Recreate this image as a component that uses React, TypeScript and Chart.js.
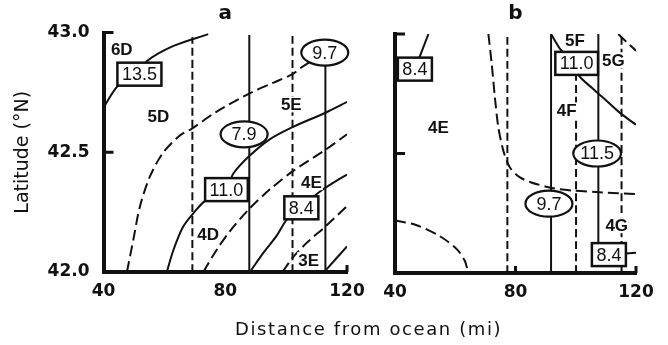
import React, { useEffect, useRef } from 'react';
import { Chart, registerables } from 'chart.js';

Chart.register(...registerables);

// ---------- shared axis data ----------
const xTicks = [40, 80, 120];
const yTicks = [42.0, 42.5, 43.0];
const yTickMarks = [42.5, 43.0];
const xTickMarksA = [120];
const xTickMarksB = [80, 120];
const panelTitles = ['a', 'b'];
const xTitle = 'Distance from ocean (mi)';
const yTitle = 'Latitude (°N)';

type Pt = [number, number];
type Lbl = { x: number; y: number; t: string };

// ---------- panel a contour lines [distance (mi), latitude (°N)] ----------
const aSolid135: Pt[] = [[40, 42.686], [44.9, 42.78], [51.8, 42.83], [54.2, 42.88], [63.0, 42.944], [74.4, 42.993]];
const aDashV69: Pt[] = [[69.2, 42.0], [69.2, 42.98]];
const aSolidV88: Pt[] = [[87.9, 42.0], [87.9, 42.99]];
const aDashV102: Pt[] = [[102.1, 42.0], [102.1, 42.99]];
const aSolidV113: Pt[] = [[112.9, 42.0], [112.9, 42.916]];
const aDashBig: Pt[] = [[47.7, 42.0], [49.8, 42.135], [52.0, 42.275], [55.3, 42.4], [59.7, 42.5], [65.1, 42.57], [69.2, 42.6], [77.2, 42.67], [87.9, 42.745], [95.7, 42.79], [102.1, 42.826], [105.0, 42.854], [112.7, 42.916]];
const aSolid110: Pt[] = [[60.8, 42.0], [63.0, 42.093], [66.2, 42.19], [70.1, 42.254], [73.3, 42.296], [80.4, 42.344], [82.6, 42.41], [87.9, 42.484], [94.6, 42.554], [102.1, 42.605], [112.9, 42.665], [120, 42.71]];
const aDashMid: Pt[] = [[72.8, 42.0], [77.2, 42.093], [81.5, 42.17], [87.9, 42.264], [94.6, 42.344], [102.1, 42.42], [112.9, 42.51], [120, 42.575]];
const aSolid84: Pt[] = [[88.1, 42.0], [92.5, 42.08], [96.8, 42.15], [100.3, 42.22], [105.0, 42.268], [110.8, 42.333], [115.4, 42.372], [120, 42.407]];
const aDashLow: Pt[] = [[98.8, 42.0], [102.1, 42.059], [106.7, 42.121], [112.9, 42.19], [120, 42.275]];
const aSolidShort: Pt[] = [[113.2, 42.01], [120, 42.107]];

const aBoxes: Lbl[] = [{ x: 51.8, y: 42.826, t: '13.5' }, { x: 80.4, y: 42.344, t: '11.0' }, { x: 105.0, y: 42.268, t: '8.4' }];
const aEllipses: Lbl[] = [{ x: 86.2, y: 42.575, t: '7.9' }, { x: 112.7, y: 42.916, t: '9.7' }];
const aRegions: Lbl[] = [{ x: 46.0, y: 42.93, t: '6D' }, { x: 58.0, y: 42.65, t: '5D' }, { x: 101.7, y: 42.7, t: '5E' }, { x: 108.3, y: 42.375, t: '4E' }, { x: 74.4, y: 42.156, t: '4D' }, { x: 107.4, y: 42.05, t: '3E' }];

// ---------- panel b contour lines ----------
const bSolidTop: Pt[] = [[46.6, 42.853], [51.1, 43.0]];
const bDashCorner: Pt[] = [[40, 42.22], [47.2, 42.2], [54.9, 42.154], [60.5, 42.1], [63.2, 42.05], [64.3, 42.0]];
const bDashHyper: Pt[] = [[71.0, 43.0], [72.1, 42.875], [73.2, 42.73], [74.3, 42.61], [76.0, 42.51], [78.2, 42.44], [81.5, 42.4], [85.0, 42.38], [92.0, 42.356], [99.0, 42.345], [108.0, 42.338], [120, 42.33]];
const bDashV77: Pt[] = [[77.3, 42.0], [77.3, 43.0]];
const bSolidV92: Pt[] = [[91.8, 42.0], [91.8, 43.0]];
const bSolid110: Pt[] = [[91.8, 43.0], [95.3, 42.93], [100.3, 42.877], [100.8, 42.83], [105.8, 42.77], [110.3, 42.72], [114.7, 42.67], [120, 42.62]];
const bDashV100: Pt[] = [[100.1, 42.0], [100.1, 42.88]];
const bSolidV107: Pt[] = [[107.5, 42.077], [107.5, 43.0]];
const bDashV115: Pt[] = [[115.2, 42.0], [115.2, 43.0]];
const bDashTopRight: Pt[] = [[114.1, 43.0], [117.0, 42.965], [120, 42.93]];
const bSolidTick: Pt[] = [[111.0, 42.077], [120, 42.085]];

const bBoxes: Lbl[] = [{ x: 46.6, y: 42.853, t: '8.4' }, { x: 100.3, y: 42.877, t: '11.0' }, { x: 111.0, y: 42.077, t: '8.4' }];
const bEllipses: Lbl[] = [{ x: 91.1, y: 42.29, t: '9.7' }, { x: 107.1, y: 42.5, t: '11.5' }];
const bRegions: Lbl[] = [{ x: 54.4, y: 42.61, t: '4E' }, { x: 99.75, y: 42.975, t: '5F' }, { x: 112.5, y: 42.89, t: '5G' }, { x: 97.0, y: 42.68, t: '4F' }, { x: 113.6, y: 42.2, t: '4G' }];

const aSolid = [aSolid135, aSolidV88, aSolidV113, aSolid110, aSolid84, aSolidShort];
const aDashed = [aDashV69, aDashV102, aDashBig, aDashMid, aDashLow];
const bSolid = [bSolidTop, bSolidV92, bSolid110, bSolidV107, bSolidTick];
const bDashed = [bDashCorner, bDashHyper, bDashV77, bDashV100, bDashV115, bDashTopRight];

const FONT = 'DejaVu Sans';
const LABEL_FONT = 'Liberation Sans';
const INK = '#111';

function lineDataset(points: Pt[], dashed: boolean) {
  const vertical = points.length === 2 && points[0][0] === points[1][0];
  return {
    data: points.map(([x, y]) => ({ x, y })),
    showLine: true,
    borderColor: INK,
    borderWidth: 2,
    borderDash: dashed ? (vertical ? [8, 4] : [11, 5]) : [],
    pointRadius: 0,
    tension: 0.3,
    fill: false,
  };
}

function makeLabelPlugin(boxes: Lbl[], ellipses: Lbl[], regions: Lbl[], xMarks: number[]) {
  return {
    id: 'contourLabels',
    afterDatasetsDraw(chart: any) {
      const { ctx, scales, chartArea } = chart;
      const sx = scales.x, sy = scales.y;
      ctx.save();
      ctx.textAlign = 'center';
      ctx.textBaseline = 'middle';
      // region labels
      ctx.font = `bold 17px "${LABEL_FONT}"`;
      for (const r of regions) {
        const px = sx.getPixelForValue(r.x), py = sy.getPixelForValue(r.y);
        const w = ctx.measureText(r.t).width;
        ctx.fillStyle = '#fff';
        ctx.fillRect(px - w / 2 - 1, py - 8, w + 2, 16);
        ctx.fillStyle = INK;
        ctx.fillText(r.t, px, py + 1);
      }
      // boxed values
      ctx.font = `18px "${LABEL_FONT}"`;
      ctx.lineWidth = 2.5;
      ctx.strokeStyle = INK;
      for (const b of boxes) {
        const px = sx.getPixelForValue(b.x), py = sy.getPixelForValue(b.y);
        const w = ctx.measureText(b.t).width + 9, h = 23;
        ctx.fillStyle = '#fff';
        ctx.fillRect(px - w / 2, py - h / 2, w, h);
        ctx.strokeRect(px - w / 2, py - h / 2, w, h);
        ctx.fillStyle = INK;
        ctx.fillText(b.t, px, py + 1);
      }
      // circled values
      ctx.lineWidth = 2.2;
      for (const e of ellipses) {
        const px = sx.getPixelForValue(e.x), py = sy.getPixelForValue(e.y);
        const w = Math.max(47, ctx.measureText(e.t).width + 14), h = 26;
        ctx.beginPath();
        ctx.ellipse(px, py, w / 2, h / 2, 0, 0, Math.PI * 2);
        ctx.fillStyle = '#fff';
        ctx.fill();
        ctx.stroke();
        ctx.fillStyle = INK;
        ctx.fillText(e.t, px, py + 1);
      }
      // inward tick marks
      ctx.lineWidth = 3;
      ctx.strokeStyle = INK;
      ctx.beginPath();
      for (const v of yTickMarks) {
        const py = sy.getPixelForValue(v);
        ctx.moveTo(chartArea.left, py);
        ctx.lineTo(chartArea.left + 10, py);
      }
      for (const v of xMarks) {
        const px = sx.getPixelForValue(v);
        ctx.moveTo(px, chartArea.bottom);
        ctx.lineTo(px, chartArea.bottom - 7);
      }
      ctx.stroke();
      ctx.restore();
    },
  };
}

type PanelProps = {
  left: number;
  width: number;
  title: string;
  solid: Pt[][];
  dashed: Pt[][];
  boxes: Lbl[];
  ellipses: Lbl[];
  regions: Lbl[];
  xMarks: number[];
  yAxisWidth: number;
  padRight: number;
  showY: boolean;
  titlePad: { top: number; bottom: number };
  xAxisHeight: number;
};

function Panel(p: PanelProps) {
  const ref = useRef<HTMLCanvasElement | null>(null);
  useEffect(() => {
    if (!ref.current) return;
    const datasets = [
      ...p.solid.map((pts) => lineDataset(pts, false)),
      ...p.dashed.map((pts) => lineDataset(pts, true)),
    ];
    const tickFont = { family: FONT, size: 17, weight: 'bold' as const };
    const chart = new Chart(ref.current, {
      type: 'scatter',
      data: { datasets },
      plugins: [makeLabelPlugin(p.boxes, p.ellipses, p.regions, p.xMarks)],
      options: {
        responsive: false,
        animation: false,
        devicePixelRatio: 1,
        layout: { padding: { left: 0, right: p.padRight, top: 0, bottom: 0 } },
        plugins: {
          legend: { display: false },
          tooltip: { enabled: false },
          title: {
            display: true,
            text: p.title,
            fullSize: false,
            color: INK,
            font: { family: FONT, size: 20, weight: 'bold' },
            padding: p.titlePad,
          },
        },
        scales: {
          x: {
            type: 'linear',
            min: 40,
            max: 120,
            afterBuildTicks: (s: any) => { s.ticks = xTicks.map((v) => ({ value: v })); },
            afterFit: (s: any) => { s.height = p.xAxisHeight; },
            ticks: { color: INK, font: tickFont, padding: 1, autoSkip: false, maxRotation: 0 },
            grid: { display: false },
            border: { display: true, width: 4, color: INK },
          },
          y: {
            type: 'linear',
            min: 42,
            max: 43,
            afterBuildTicks: (s: any) => { s.ticks = yTicks.map((v) => ({ value: v })); },
            afterFit: (s: any) => { s.width = p.yAxisWidth; },
            ticks: {
              display: p.showY,
              color: INK,
              font: tickFont,
              padding: 6,
              callback: (v: any) => Number(v).toFixed(1),
            },
            title: {
              display: p.showY,
              text: yTitle,
              color: INK,
              font: { family: FONT, size: 19 },
              padding: { top: 12, bottom: 0 },
            },
            grid: { display: false },
            border: { display: true, width: 4, color: INK },
          },
        },
      },
    } as any);
    return () => chart.destroy();
  }, []);
  return (
    <canvas
      ref={ref}
      width={p.width}
      height={345}
      style={{ position: 'absolute', left: p.left, top: 0, width: p.width, height: 345 }}
    />
  );
}

export default function App() {
  return (
    <div style={{ position: 'fixed', left: 0, top: 0, width: 668, height: 345, background: '#fff', overflow: 'hidden' }}>
      <Panel
        left={0}
        width={366}
        title={panelTitles[0]}
        solid={aSolid}
        dashed={aDashed}
        boxes={aBoxes}
        ellipses={aEllipses}
        regions={aRegions}
        xMarks={xTickMarksA}
        yAxisWidth={103.5}
        padRight={19}
        showY={true}
        titlePad={{ top: 2, bottom: 6.5 }}
        xAxisHeight={73}
      />
      <Panel
        left={362}
        width={306}
        title={panelTitles[1]}
        solid={bSolid}
        dashed={bDashed}
        boxes={bBoxes}
        ellipses={bEllipses}
        regions={bRegions}
        xMarks={xTickMarksB}
        yAxisWidth={33}
        padRight={32}
        showY={false}
        titlePad={{ top: 2, bottom: 8 }}
        xAxisHeight={72}
      />
      <div
        style={{
          position: 'absolute',
          left: 235,
          top: 319,
          fontFamily: FONT,
          fontSize: 18,
          lineHeight: '20px',
          letterSpacing: '1.6px',
          color: INK,
          whiteSpace: 'nowrap',
        }}
      >
        {xTitle}
      </div>
    </div>
  );
}
